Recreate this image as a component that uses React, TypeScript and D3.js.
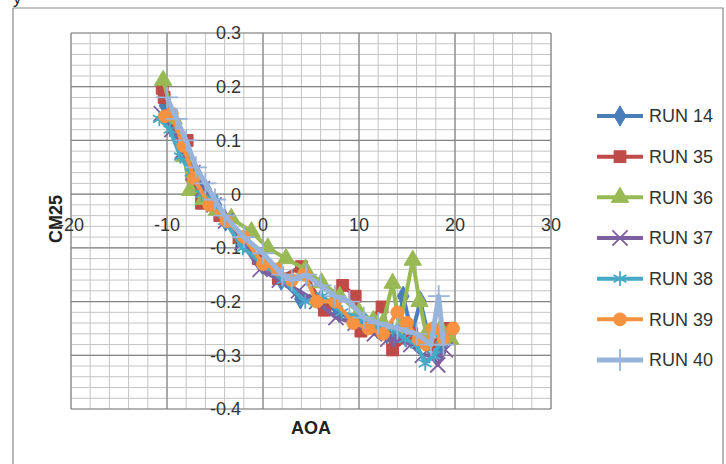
import React from 'react';
import * as d3 from 'd3';

// AOA / CM25 readings per run
const run14Aoa = [-10.2, -9.2, -8.1, -7.0, -6.0, -4.9, -3.9, -2.0, -0.1, 1.9, 3.9, 5.9, 7.9, 9.9, 11.9, 12.9, 13.9, 14.6, 15.5, 16.4, 17.3, 18.2, 19.0];
const run14Cm = [0.165, 0.13, 0.08, 0.04, 0.01, -0.02, -0.05, -0.09, -0.13, -0.16, -0.195, -0.2, -0.22, -0.24, -0.25, -0.26, -0.27, -0.19, -0.26, -0.2, -0.27, -0.29, -0.27];

const run35Aoa = [-10.5, -10.3, -9.2, -7.9, -7.4, -6.4, -4.5, -2.5, -0.5, 1.6, 4.0, 6.4, 8.3, 9.6, 10.2, 12.4, 13.5, 15.5, 17.5, 19.5];
const run35Cm = [0.197, 0.18, 0.13, 0.1, 0.035, -0.017, -0.04, -0.08, -0.12, -0.157, -0.135, -0.216, -0.17, -0.19, -0.255, -0.21, -0.29, -0.26, -0.28, -0.25];

const run36Aoa = [-10.4, -9.3, -8.2, -7.6, -6.2, -4.8, -3.3, -1.2, 0.5, 2.4, 4.4, 6.1, 8.0, 10.0, 11.5, 12.5, 13.5, 14.2, 15.6, 16.3, 17.0, 18.5, 19.5];
const run36Cm = [0.212, 0.14, 0.07, 0.007, -0.01, -0.03, -0.045, -0.07, -0.1, -0.12, -0.14, -0.165, -0.19, -0.22, -0.235, -0.24, -0.166, -0.25, -0.123, -0.2, -0.26, -0.25, -0.27];

const run37Aoa = [-10.6, -9.5, -8.4, -7.3, -6.3, -5.1, -3.9, -2.2, -0.3, 1.7, 3.7, 5.6, 7.6, 9.6, 11.6, 13.0, 14.2, 15.4, 16.6, 17.5, 18.2, 19.0];
const run37Cm = [0.15, 0.12, 0.08, 0.04, 0.01, -0.02, -0.05, -0.09, -0.14, -0.16, -0.18, -0.2, -0.23, -0.24, -0.26, -0.27, -0.27, -0.28, -0.3, -0.3, -0.318, -0.29];

const run38Aoa = [-10.8, -9.7, -8.6, -7.5, -6.4, -5.3, -4.0, -2.1, 0.0, 2.1, 4.4, 6.2, 8.2, 10.2, 12.0, 13.5, 14.8, 16.0, 16.9, 17.8, 18.6];
const run38Cm = [0.14, 0.12, 0.07, 0.04, 0.0, -0.01, -0.05, -0.1, -0.13, -0.16, -0.2, -0.19, -0.22, -0.23, -0.25, -0.25, -0.27, -0.28, -0.315, -0.3, -0.27];

const run39Aoa = [-10.2, -9.5, -8.3, -7.2, -5.6, -3.8, -2.0, 0.0, 1.5, 3.0, 4.3, 5.6, 7.5, 9.4, 11.0, 12.5, 14.0, 15.0, 16.2, 17.0, 17.7, 18.8, 19.8];
const run39Cm = [0.145, 0.15, 0.09, 0.03, -0.02, -0.05, -0.08, -0.13, -0.14, -0.16, -0.15, -0.2, -0.2, -0.24, -0.25, -0.26, -0.22, -0.24, -0.27, -0.28, -0.25, -0.27, -0.25];

const run40Aoa = [-10.0, -9.0, -8.0, -7.0, -6.0, -5.0, -4.0, -2.0, 0.0, 2.0, 3.0, 4.5, 6.0, 7.5, 9.0, 10.5, 12.0, 14.0, 16.0, 17.5, 18.3, 18.8];
const run40Cm = [0.18, 0.14, 0.1, 0.05, 0.02, -0.01, -0.04, -0.08, -0.11, -0.15, -0.16, -0.15, -0.17, -0.19, -0.2, -0.23, -0.24, -0.25, -0.26, -0.28, -0.19, -0.28];

const runNames = ['RUN 14', 'RUN 35', 'RUN 36', 'RUN 37', 'RUN 38', 'RUN 39', 'RUN 40'];
const xTicks = [-20, -10, 0, 10, 20, 30];
const yTicks = [0.3, 0.2, 0.1, 0, -0.1, -0.2, -0.3, -0.4];

type Run = {
  name: string;
  aoa: number[];
  cm: number[];
  color: string;
  symbol: d3.SymbolType;
  size: number;
  filled: boolean;
};

const runs: Run[] = [
  { name: runNames[0], aoa: run14Aoa, cm: run14Cm, color: '#4A7EBB', symbol: d3.symbolDiamond, size: 120, filled: true },
  { name: runNames[1], aoa: run35Aoa, cm: run35Cm, color: '#BE4B48', symbol: d3.symbolSquare, size: 140, filled: true },
  { name: runNames[2], aoa: run36Aoa, cm: run36Cm, color: '#98B954', symbol: d3.symbolTriangle, size: 130, filled: true },
  { name: runNames[3], aoa: run37Aoa, cm: run37Cm, color: '#7D60A0', symbol: d3.symbolX, size: 150, filled: false },
  { name: runNames[4], aoa: run38Aoa, cm: run38Cm, color: '#46AAC5', symbol: d3.symbolAsterisk, size: 150, filled: false },
  { name: runNames[5], aoa: run39Aoa, cm: run39Cm, color: '#F69240', symbol: d3.symbolCircle, size: 130, filled: true },
  { name: runNames[6], aoa: run40Aoa, cm: run40Cm, color: '#98B4DA', symbol: d3.symbolPlus, size: 160, filled: false },
];

const font = '"Liberation Sans", Arial, sans-serif';
const fmt = (v: number) => (v === 0 ? '0' : String(v));

export default function App() {
  const width = 726;
  const height = 464;
  const left = 71;
  const right = 551;
  const top = 33;
  const bottom = 409;

  const x = d3.scaleLinear().domain([-20, 30]).range([left, right]);
  const y = d3.scaleLinear().domain([-0.4, 0.3]).range([bottom, top]);

  const minorX = d3.range(-20, 30.001, 2);
  const minorY = d3.range(-0.4, 0.3001, 0.02);

  const line = d3
    .line<[number, number]>()
    .x((d) => x(d[0]))
    .y((d) => y(d[1]));

  const legendY = d3.scaleLinear().domain([0, 6]).range([116, 360]);

  const marker = (r: Run, cx: number, cy: number, key: string) => {
    const path = d3.symbol().type(r.symbol).size(r.size)() ?? '';
    return (
      <path
        key={key}
        d={path}
        transform={`translate(${cx},${cy})`}
        fill={r.filled ? r.color : 'none'}
        stroke={r.color}
        strokeWidth={r.filled ? 1 : 1.8}
      />
    );
  };

  return (
    <svg
      width={width}
      height={height}
      style={{ position: 'absolute', left: 0, top: 0, background: '#fff' }}
      fontFamily={font}
    >
      <rect x={0} y={0} width={width} height={height} fill="#fff" />
      <text x={13} y={4} fontSize={17} fill="#222">y</text>
      <path d={`M13,${height + 2}V8H723V${height + 2}`} fill="none" stroke="#8a8a8a" strokeWidth={1.2} />

      {/* minor grid */}
      {minorX.map((v) => (
        <line key={`mx${v}`} x1={x(v)} x2={x(v)} y1={top} y2={bottom} stroke="#c4c4c4" strokeWidth={1} />
      ))}
      {minorY.map((v, i) => (
        <line key={`my${i}`} x1={left} x2={right} y1={y(v)} y2={y(v)} stroke="#c4c4c4" strokeWidth={1} />
      ))}
      {/* major grid */}
      {xTicks.map((v) => (
        <line key={`Mx${v}`} x1={x(v)} x2={x(v)} y1={top} y2={bottom} stroke="#858585" strokeWidth={1.2} />
      ))}
      {yTicks.map((v) => (
        <line key={`My${v}`} x1={left} x2={right} y1={y(v)} y2={y(v)} stroke="#858585" strokeWidth={1.2} />
      ))}

      {/* tick labels */}
      {yTicks.map((v) => (
        <text key={`yl${v}`} x={241} y={y(v)} dy="0.36em" textAnchor="end" fontSize={18} fill="#333">
          {fmt(v)}
        </text>
      ))}
      {xTicks.map((v) => (
        <text key={`xl${v}`} x={x(v)} y={225} dy="0.36em" textAnchor="middle" fontSize={18} fill="#333">
          {fmt(v)}
        </text>
      ))}

      {/* series */}
      {runs.map((r) => {
        const pts = r.aoa.map((a, i) => [a, r.cm[i]] as [number, number]);
        return (
          <g key={r.name}>
            <path d={line(pts) ?? ''} fill="none" stroke={r.color} strokeWidth={r.name === 'RUN 40' ? 5 : 4} strokeLinejoin="round" />
            {pts.map((p, i) => marker(r, x(p[0]), y(p[1]), `${r.name}-${i}`))}
          </g>
        );
      })}

      {/* axis titles */}
      <text x={311} y={428} dy="0.36em" textAnchor="middle" fontSize={18} fontWeight="bold" fill="#222">AOA</text>
      <text
        transform="translate(56,219) rotate(-90)"
        dy="0.36em"
        textAnchor="middle"
        fontSize={18}
        fontWeight="bold"
        fill="#222"
      >
        CM25
      </text>

      {/* legend */}
      {runs.map((r, i) => {
        const ly = legendY(i);
        return (
          <g key={`lg${r.name}`}>
            <line x1={597} x2={643} y1={ly} y2={ly} stroke={r.color} strokeWidth={r.name === 'RUN 40' ? 5 : 4} />
            {marker(r, 620, ly, `lm${i}`)}
            <text x={649} y={ly} dy="0.36em" fontSize={18} fill="#333">{r.name}</text>
          </g>
        );
      })}
    </svg>
  );
}
